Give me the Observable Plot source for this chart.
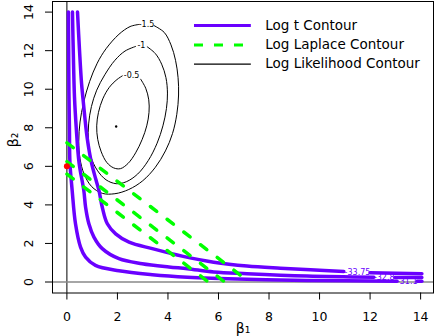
<!DOCTYPE html>
<html><head><meta charset="utf-8">
<script src="https://cdn.jsdelivr.net/npm/d3@7"></script>
<script src="https://cdn.jsdelivr.net/npm/@observablehq/plot@0.6"></script>
<style>body{margin:0;background:#fff} svg{display:block}</style>
</head><body><div id="chart"></div>
<script>
// ---- data ----
const xTicks = [0, 2, 4, 6, 8, 10, 12, 14];
const yTicks = [0, 2, 4, 6, 8, 10, 12, 14];

// Log t contours (levels and traced points [beta1, beta2]); gaps where labels sit
const tLevels = ["-33.75", "-32.8", "-31.1"];
const tC_a = [[0.42,14],[0.50,12],[0.58,10.3],[0.66,9.2],[0.80,7.5],[0.97,6.2],[1.15,5.3],[1.27,4.74],[1.40,3.88],[1.60,3.02],[1.93,2.50],[2.46,2.07],[3.38,1.73],[4.6,1.33],[5.81,1.03],[7.13,0.83],[8.45,0.72],[9.64,0.64],[10.96,0.55]];
const tC_b = [[12.0,0.48],[14.05,0.43]];
const tB_a = [[0.22,14],[0.26,11.5],[0.30,9.6],[0.37,8],[0.48,6.2],[0.67,4.74],[0.74,3.88],[0.87,3.02],[1.07,2.33],[1.40,1.73],[2.06,1.21],[2.98,0.95],[4.04,0.78],[4.77,0.69],[5.81,0.52],[7.13,0.43],[9.5,0.31],[12.15,0.25]];
const tB_b = [[12.98,0.24],[14.05,0.23]];
const tA_a = [[0.06,14],[0.07,12],[0.08,9.9],[0.10,8],[0.12,6.2],[0.21,4.73],[0.34,3.02],[0.54,1.81],[0.74,1.29],[1.13,0.86],[2.06,0.58],[3.38,0.38],[4.77,0.25],[7.13,0.14],[9.5,0.08],[13.07,0.04]];
const tA_b = [[13.86,0.04],[14.05,0.04]];
const tLabelX = [11.5, 12.56, 13.47];
const tLabelY = [0.52, 0.24, 0.03];

// Log Laplace contours: beta1 + beta2 = c
const laplaceLevels = [5.6, 6.25, 7.22];

// Log likelihood contours
const llLevels = ["-1.5", "-1", "-0.5"];
const llOuter = [[3.45,13.3],[3.85,12.95],[4.12,12.3],[4.30,11.5],[4.40,10.6],[4.42,9.7],[4.35,8.7],[4.18,7.7],[3.90,6.8],[3.50,5.95],[3.0,5.25],[2.45,4.8],[1.9,4.58],[1.4,4.6],[0.98,4.95],[0.68,5.6],[0.52,6.4],[0.47,7.3],[0.52,8.3],[0.66,9.3],[0.90,10.4],[1.2,11.35],[1.55,12.1],[2.06,12.85],[2.5,13.25],[2.85,13.36]];
const llMiddle = [[3.18,12.2],[3.5,11.85],[3.75,11.3],[3.92,10.6],[3.98,9.8],[3.94,9.0],[3.80,8.1],[3.57,7.2],[3.22,6.3],[2.8,5.6],[2.35,5.2],[1.95,5.1],[1.55,5.3],[1.2,5.8],[0.95,6.5],[0.85,7.3],[0.86,8.2],[0.97,9.1],[1.18,9.95],[1.5,10.75],[1.9,11.5],[2.3,11.98],[2.72,12.22]];
const llInner = [[2.92,10.52],[3.12,10.05],[3.24,9.45],[3.25,8.8],[3.16,8.1],[2.98,7.4],[2.72,6.7],[2.42,6.15],[2.12,5.88],[1.85,5.92],[1.58,6.2],[1.36,6.75],[1.22,7.4],[1.18,8.1],[1.25,8.8],[1.42,9.5],[1.68,10.1],[1.98,10.5],[2.19,10.69]];
const llLabelX = [3.15, 2.95, 2.56];
const llLabelY = [13.36, 12.25, 10.7];

const mleX = [1.95], mleY = [8.07];     // likelihood maximum
const redX = [0], redY = [6];           // red point

const legendLabels = ["Log t Contour", "Log Laplace Contour", "Log Likelihood Contour"];

// ---- build tables ----
const purple = "#6a00ff";
const green = "#00ff00";
const toRows = (pts, key) => pts.map(([b1, b2]) => ({b1, b2, key}));
const tData = [
  ...toRows(tC_a, "C1"), ...toRows(tC_b, "C2"),
  ...toRows(tB_a, "B1"), ...toRows(tB_b, "B2"),
  ...toRows(tA_a, "A1"), ...toRows(tA_b, "A2")
];
const tLabels = tLevels.map((t, i) => ({t, x: tLabelX[i], y: tLabelY[i]}));
const lapData = laplaceLevels.flatMap(c => [{b1: 0, b2: c, key: c}, {b1: c, b2: 0, key: c}]);
const llData = [...toRows(llOuter, "o"), ...toRows(llMiddle, "m"), ...toRows(llInner, "i")];
const llLabels = llLevels.map((t, i) => ({t, x: llLabelX[i], y: llLabelY[i]}));

// legend placement (data units, like R's legend())
const legX1 = 5.05, legX2 = 7.3, legTextX = 7.85, legY0 = 13.3, legStep = 1.0;
const legRows = legendLabels.map((t, i) => ({t, y: legY0 - i * legStep, i}));
const legStroke = [purple, green, "black"];
const legWidth = [3, 3, 1.2];
const legDash = [null, "9,11", null];

const plot = Plot.plot({
  width: 436, height: 336,
  marginLeft: 52, marginRight: 3, marginTop: 1, marginBottom: 43.5,
  x: {domain: [-0.57, 14.51]},
  y: {domain: [-0.57, 14.55]},
  style: {fontFamily: "DejaVu Sans", fontSize: "12px", background: "white", color: "black"},
  marks: [
    Plot.ruleX([0], {stroke: "black", strokeWidth: 1}),
    Plot.ruleY([0], {stroke: "#888", strokeWidth: 1.6}),
    Plot.line(llData, {x: "b1", y: "b2", z: "key", curve: "catmull-rom", stroke: "black", strokeWidth: 1}),
    Plot.text(llLabels, {x: "x", y: "y", text: "t", fontSize: 8, fill: "black"}),
    Plot.line(tData, {x: "b1", y: "b2", z: "key", curve: "catmull-rom", stroke: purple, strokeWidth: 3.5}),
    Plot.text(tLabels, {x: "x", y: "y", text: "t", fontSize: 8, fill: purple}),
    Plot.line(lapData, {x: "b1", y: "b2", z: "key", stroke: green, strokeWidth: 3.5, strokeDasharray: "8,13", strokeLinecap: "round"}),
    Plot.dot(redX.map((x, i) => ({x, y: redY[i]})), {x: "x", y: "y", r: 3, fill: "red", stroke: "none"}),
    Plot.dot(mleX.map((x, i) => ({x, y: mleY[i]})), {x: "x", y: "y", r: 1.2, fill: "black", stroke: "none"}),
    ...legRows.map(d => Plot.ruleY([d], {y: "y", x1: legX1, x2: legX2, stroke: legStroke[d.i], strokeWidth: legWidth[d.i], strokeDasharray: legDash[d.i], strokeLinecap: "butt"})),
    Plot.text(legRows, {x: legTextX, y: "y", text: "t", textAnchor: "start", fontSize: 13.5}),
    Plot.frame({stroke: "black"}),
    Plot.axisX({ticks: xTicks, tickSize: 7, tickPadding: 12, fontSize: 12.5, label: null}),
    Plot.axisY({ticks: yTicks, tickSize: 7, tickRotate: -90, tickPadding: 13, fontSize: 12.5, label: null}),
    Plot.text(["β₁"], {frameAnchor: "bottom", dy: 40, fontSize: 14}),
    Plot.text(["β₂"], {frameAnchor: "left", dx: -39, rotate: -90, fontSize: 14})
  ]
});
document.getElementById("chart").appendChild(plot);
</script>
</body></html>
